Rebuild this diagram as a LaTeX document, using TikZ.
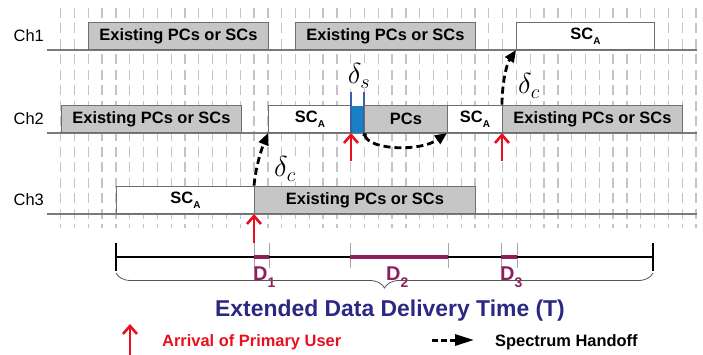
\RequirePackage{fix-cm}
\documentclass[tikz,border=0pt]{standalone}
\usepackage{fontspec}
\setmainfont{Liberation Sans}
\usetikzlibrary{arrows.meta,decorations.pathreplacing}
\definecolor{grille}{HTML}{C4C4C4}
\definecolor{rail}{HTML}{7A7A7A}
\definecolor{boxline}{HTML}{6E6E6E}
\definecolor{boxgray}{HTML}{C6C6C6}
\definecolor{pured}{HTML}{E8101E}
\definecolor{dpurple}{HTML}{8E1F5E}
\definecolor{navy}{HTML}{2B2883}
\definecolor{senseblue}{HTML}{1A80C4}
\definecolor{senseline}{HTML}{3C5DAA}
\definecolor{bracegray}{HTML}{555555}
\newcommand{\scA}{SC\raisebox{-5bp}{\fontsize{10}{10}\selectfont A}}
\newcommand{\dsub}[1]{D\raisebox{-7bp}{\fontsize{14}{14}\selectfont #1}}
\begin{document}
\begin{tikzpicture}[
    x=1bp,
    y=-1bp,
    gridline/.style={
        draw=grille,
        line width=1.3bp,
        dash pattern=on 10bp off 5.43bp
    },
    canal/.style={
        draw=rail,
        line width=1.2bp
    },
    chlabel/.style={
        anchor=east,
        inner sep=0pt,
        font=\fontsize{16.5}{18}\selectfont
    },
    busybox/.style={
        draw=boxline,
        fill=boxgray,
        line width=0.9bp,
        minimum height=27.5bp,
        inner sep=0pt,
        anchor=south west,
        font=\fontsize{16.5}{18}\selectfont\bfseries
    },
    freebox/.style={
        busybox,
        fill=white
    },
    handoff/.style={
        line width=2.8bp,
        dash pattern=on 7bp off 4bp,
        -{Triangle[length=12bp,width=10bp]}
    },
    arrival/.style={
        draw=pured,
        line width=2.6bp,
        -{Straight Barb[length=8bp,width=14bp]}
    },
    delta/.style={
        fill=white,
        inner sep=1bp,
        font=\fontsize{29}{29}\selectfont
    },
    dlabel/.style={
        anchor=base west,
        inner sep=0pt,
        text=dpurple,
        font=\fontsize{20}{20}\selectfont\bfseries
    }
]
    \useasboundingbox (0,0) rectangle (703,354);

    \foreach \k in {0,...,46}
        \draw[gridline] ({60.7+13.81*\k},8) -- ({60.7+13.81*\k},228);

    \draw[canal] (47,50) -- (697,50);
    \draw[canal] (47,133) -- (697,133);
    \draw[canal] (47,214) -- (697,214);

    \node[chlabel] (ch1) at (44,36) {Ch1};
    \node[chlabel] (ch2) at (44,119) {Ch2};
    \node[chlabel] (ch3) at (44,200) {Ch3};

    \node[busybox, minimum width=180bp] (c1a) at (88,50) {Existing PCs or SCs};
    \node[busybox, minimum width=180bp] (c1b) at (295,50) {Existing PCs or SCs};
    \node[freebox, minimum width=138bp] (c1sc) at (516,50) {\scA};

    \node[busybox, minimum width=180bp] (c2a) at (61,133) {Existing PCs or SCs};
    \node[freebox, minimum width=83bp] (c2sc) at (268,133) {\scA};
    \node[
        fill=senseblue,
        minimum width=13bp,
        minimum height=27bp,
        inner sep=0pt,
        anchor=south west
    ] (sense) at (351,133) {};
    \draw[senseline, line width=2bp] ([yshift=14bp]sense.north west) -- (sense.south west);
    \draw[senseline, line width=2bp] ([yshift=14bp]sense.north east) -- (sense.south east);
    \node[busybox, minimum width=83bp] (c2pc) at (364,133) {PCs};
    \node[freebox, minimum width=55bp] (c2sc2) at (447,133) {\scA};
    \node[busybox, minimum width=180bp] (c2ex) at (502,133) {Existing PCs or SCs};

    \node[freebox, minimum width=138bp] (c3sc) at (116,214) {\scA};
    \node[busybox, minimum width=221bp] (c3ex) at (254,214) {Existing PCs or SCs};

    \node[delta] (ds) at (359,76) {$\delta_s$};
    \node[delta] (dc1) at (285,169) {$\delta_c$};
    \node[delta] (dc2) at (529,86) {$\delta_c$};

    \draw[handoff] (c3ex.north west)
        .. controls (256,165) and (262,148) .. (c2sc.south west);
    \draw[handoff, {Circle[length=4bp]}-{Triangle[length=12bp,width=10bp]}]
        (c2pc.south west)
        .. controls (370,150) and (420,152) .. (c2sc2.south west);
    \draw[handoff] (c2ex.north west)
        .. controls (502,85) and (506,65) .. (c1sc.south west);

    \coordinate (pu1) at (254,243);
    \coordinate (pu2) at (351,161);
    \coordinate (pu3) at (502,161);
    \draw[arrival] (pu1) -- (c3ex.south west);
    \draw[arrival] (pu2) -- (sense.south west);
    \draw[arrival] (pu3) -- (c2ex.south west);

    \foreach \t in {254,269,350,448,501,517}
        \draw[gray!70, line width=0.7bp] (\t,243) -- (\t,268);
    \draw[line width=2.4bp] (116,257) -- (653,257);
    \draw[line width=2.4bp] (116,243) -- (116,271);
    \draw[line width=2.4bp] (653,243) -- (653,271);
    \draw[dpurple, line width=4bp] (254,257) -- (269,257);
    \draw[dpurple, line width=4bp] (350,257) -- (448,257);
    \draw[dpurple, line width=4bp] (501,257) -- (517,257);

    \node[dlabel] (d1) at (253,280) {\dsub{1}};
    \node[dlabel] (d2) at (386,280) {\dsub{2}};
    \node[dlabel] (d3) at (500,280) {\dsub{3}};

    \draw[
        decorate,
        decoration={brace, amplitude=15bp},
        draw=bracegray,
        line width=0.8bp
    ] (653,273) -- (116,273);

    \node[
        anchor=base,
        inner sep=0pt,
        text=navy,
        font=\fontsize{23}{23}\selectfont\bfseries
    ] (total) at (390,316) {Extended Data Delivery Time (T)};

    \coordinate (legpu) at (130,356);
    \coordinate (legputip) at (130,324);
    \draw[arrival] (legpu) -- (legputip);
    \node[
        anchor=base west,
        inner sep=0pt,
        text=pured,
        font=\fontsize{16.5}{18}\selectfont\bfseries
    ] (legputext) at (162,346) {Arrival of Primary User};

    \coordinate (leghoa) at (432,340);
    \coordinate (leghob) at (474,340);
    \draw[
        line width=3bp,
        dash pattern=on 6bp off 3bp,
        -{Triangle[length=19bp,width=11bp]}
    ] (leghoa) -- (leghob);
    \node[
        anchor=base west,
        inner sep=0pt,
        font=\fontsize{16.5}{18}\selectfont\bfseries
    ] (leghotext) at (495,346) {Spectrum Handoff};
\end{tikzpicture}
\end{document}
